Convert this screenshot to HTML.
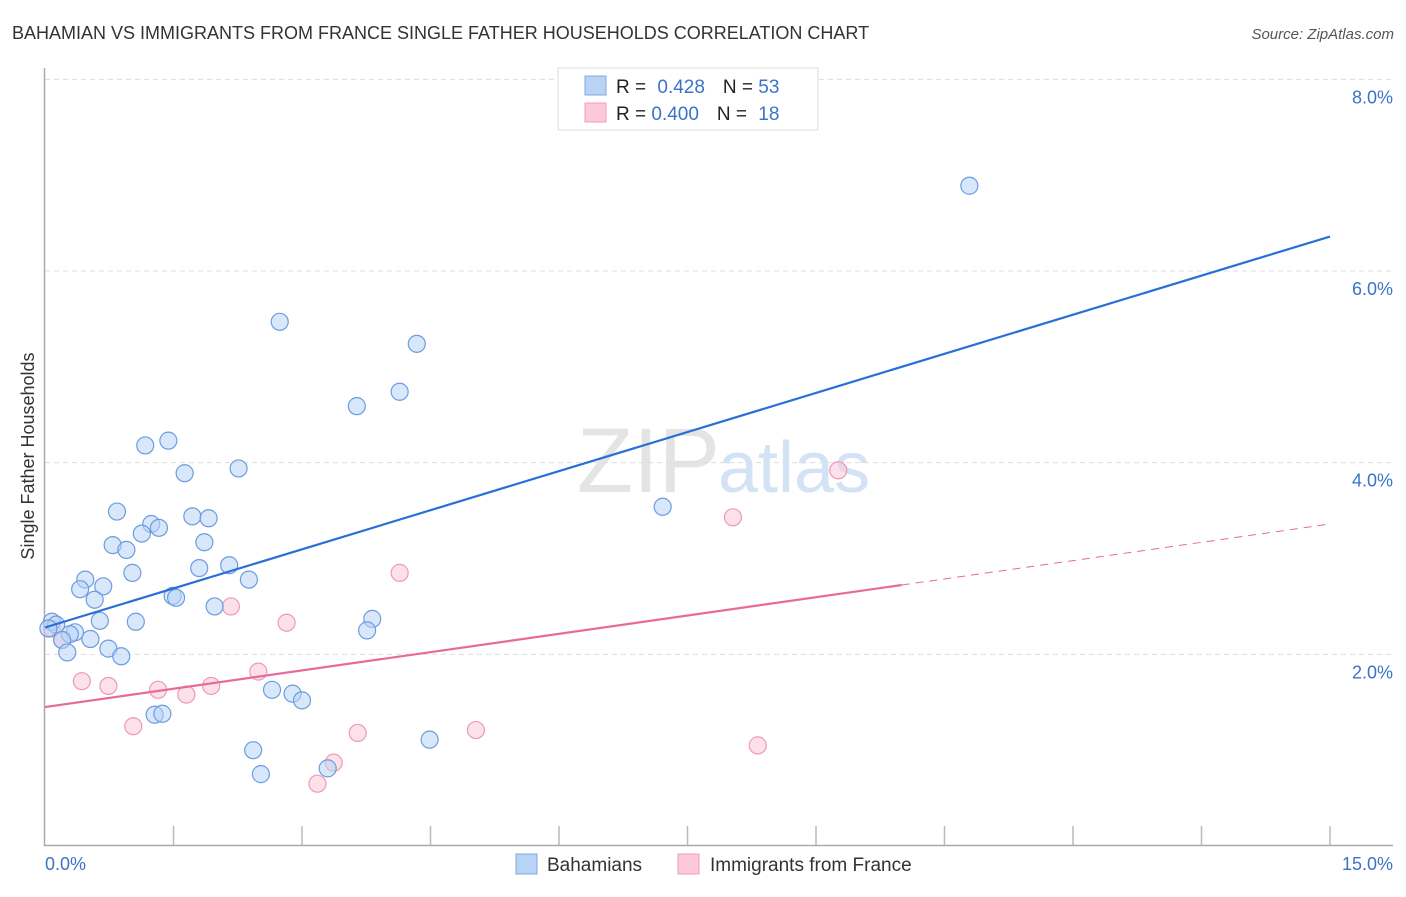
<!DOCTYPE html>
<html><head><meta charset="utf-8"><style>
body{margin:0;background:#fff;font-family:"Liberation Sans",sans-serif;}
svg text{font-family:"Liberation Sans",sans-serif;}
</style></head><body>
<svg width="1406" height="892" viewBox="0 0 1406 892">
<text x="12" y="39" font-size="18" fill="#333">BAHAMIAN VS IMMIGRANTS FROM FRANCE SINGLE FATHER HOUSEHOLDS CORRELATION CHART</text>
<text x="1394" y="39" font-size="15" fill="#555" font-style="italic" text-anchor="end">Source: ZipAtlas.com</text>
<text x="720" y="492" font-size="92" fill="#e4e4e4" font-family="Liberation Serif" text-anchor="end">ZIP</text>
<text x="718" y="492" font-size="72" fill="#d4e2f5">atlas</text>
<g id="grid"></g>
<g id="axes"></g>
<g id="pts"></g>
<g id="lines"></g>
<text transform="translate(34,456) rotate(-90)" font-size="18" fill="#333" text-anchor="middle">Single Father Households</text>
<text x="45" y="870" font-size="18" fill="#3b73c9">0.0%</text>
<text x="1393" y="870" font-size="18" fill="#3b73c9" text-anchor="end">15.0%</text>
<g>
<rect x="558" y="68" width="260" height="62" fill="#fff" stroke="#ddd"/>
<rect x="585" y="76" width="21" height="19" fill="#b9d3f5" stroke="#7fa8e0"/>
<rect x="585" y="103" width="21" height="19" fill="#fcc9d8" stroke="#f0a0b8"/>
<text x="616" y="93" font-size="19" fill="#222">R = <tspan fill="#3b73c9" dx="6">0.428</tspan><tspan dx="18" fill="#222">N = </tspan><tspan fill="#3b73c9">53</tspan></text>
<text x="616" y="120" font-size="19" fill="#222">R = <tspan fill="#3b73c9">0.400</tspan><tspan dx="18" fill="#222">N = </tspan><tspan fill="#3b73c9" dx="6">18</tspan></text>
</g>
<g>
<rect x="516" y="854" width="21" height="20" fill="#b9d3f5" stroke="#7fa8e0"/>
<text x="547" y="871" font-size="19" fill="#333">Bahamians</text>
<rect x="678" y="854" width="21" height="20" fill="#fcc9d8" stroke="#f0a0b8"/>
<text x="710" y="871" font-size="19" fill="#333">Immigrants from France</text>
</g>
</svg>
<script>
const yTicks=[2,4,6,8];
const yTickLabels=["2.0%","4.0%","6.0%","8.0%"];
const xTicks=[0,1.5,3,4.5,6,7.5,9,10.5,12,13.5,15];
const blueX=[10.79,2.74,4.34,4.14,3.64,1.44,1.17,1.63,2.26,7.21,0.84,1.72,1.91,1.24,1.33,1.13,1.86,0.79,0.95,1.02,2.15,1.80,0.47,0.41,0.68,2.38,1.49,1.53,0.58,1.98,3.82,0.64,1.06,0.08,0.13,3.76,0.35,0.29,0.53,0.20,0.74,0.26,0.89,2.65,2.89,3.00,1.28,1.37,4.49,2.43,2.52,3.30,0.04];
const blueY=[6.89,5.47,5.24,4.74,4.59,4.23,4.18,3.89,3.94,3.54,3.49,3.44,3.42,3.36,3.32,3.26,3.17,3.14,3.09,2.85,2.93,2.90,2.78,2.68,2.71,2.78,2.61,2.59,2.57,2.50,2.37,2.35,2.34,2.34,2.31,2.25,2.23,2.21,2.16,2.15,2.06,2.02,1.98,1.63,1.59,1.52,1.37,1.38,1.11,1.00,0.75,0.81,2.27];
const pinkX=[0.08,0.20,0.43,0.74,1.03,1.32,1.65,1.94,2.17,2.49,2.82,3.18,3.37,3.65,4.14,5.03,8.03,8.32,9.26];
const pinkY=[2.27,2.15,1.72,1.67,1.25,1.63,1.58,1.67,2.50,1.82,2.33,0.65,0.87,1.18,2.85,1.21,3.43,1.05,3.92];
const blueFit=[2.28,6.36];
const pinkFit=[1.45,3.36];
const pinkSolidEnd=10;
const NS="http://www.w3.org/2000/svg";
const xs=v=>45+v*(1330-45)/15;
const ys=v=>846-v*95.83;
function mk(t,a,p){const e=document.createElementNS(NS,t);for(const k in a)e.setAttribute(k,a[k]);p.appendChild(e);return e;}
const grid=document.getElementById('grid'),axes=document.getElementById('axes'),pts=document.getElementById('pts'),lines=document.getElementById('lines');
yTicks.forEach((t,i)=>{
 const l=mk('line',{x1:45,x2:1393,y1:ys(t),y2:ys(t),stroke:'#ddd','stroke-dasharray':'5,4'},grid);
 
 
 const tx=mk('text',{x:1393,y:ys(t)+24,'font-size':18,fill:'#3b73c9','text-anchor':'end'},grid);
 tx.textContent=yTickLabels[i];
 
 
});
const ax=mk('path',{d:'M44.5 68 V845.5 H1393',fill:'none',stroke:'#aaa','stroke-width':1.5},axes);


xTicks.slice(1).forEach(t=>{
 const l=mk('line',{x1:xs(t),x2:xs(t),y1:826,y2:845,stroke:'#bbb','stroke-width':1.5},axes);
 
 
});
function dots(X,Y,fill,stroke,name){X.forEach((x,i)=>{
 const c=mk('circle',{cx:xs(x),cy:ys(Y[i]),r:8.5,fill:fill,'fill-opacity':0.55,stroke:stroke,'stroke-width':1.2},pts);
 
 
});}
dots(pinkX,pinkY,'#fcc9d8','#ee9ab4','france-point');
dots(blueX,blueY,'#b9d3f5','#6a9de0','bahamian-point');
const bl=mk('line',{x1:xs(0),y1:ys(blueFit[0]),x2:xs(15),y2:ys(blueFit[1]),stroke:'#2a6fd6','stroke-width':2.2},lines);


const pm=pinkFit[0]+(pinkFit[1]-pinkFit[0])*pinkSolidEnd/15;
const pl=mk('line',{x1:xs(0),y1:ys(pinkFit[0]),x2:xs(pinkSolidEnd),y2:ys(pm),stroke:'#e8699a','stroke-width':2.2},lines);


const pd=mk('line',{x1:xs(pinkSolidEnd),y1:ys(pm),x2:xs(15),y2:ys(pinkFit[1]),stroke:'#e8699a','stroke-width':1,'stroke-dasharray':'8,6'},lines);


</script>
</body></html>
